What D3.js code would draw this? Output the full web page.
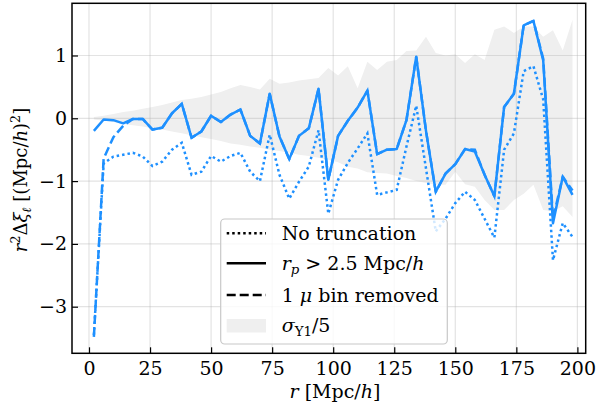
<!DOCTYPE html>
<html>
<head>
<meta charset="utf-8">
<script src="https://cdn.jsdelivr.net/npm/d3@7"></script>
<style>
  html, body { margin: 0; padding: 0; background: #fff; }
  svg { display: block; }
  text { font-family: "DejaVu Serif", serif; fill: #000; }
</style>
</head>
<body>
<svg id="chart" width="598" height="406"></svg>
<script>
// Separation r [Mpc/h] at the centre of each bin
const rBins = [2, 6, 10, 14, 18, 22, 26, 30, 34, 38, 42, 46, 50, 54, 58, 62, 66, 70, 74, 78,
  82, 86, 90, 94, 98, 102, 106, 110, 114, 118, 122, 126, 130, 134, 138, 142, 146, 150, 154, 158,
  162, 166, 170, 174, 178, 182, 186, 190, 194, 198];

// r^2 Δξ_ℓ without any truncation
const noTruncation = [-3.45, -0.72, -0.61, -0.58, -0.55, -0.61, -0.76, -0.69, -0.50, -0.39,
  -0.90, -0.85, -0.60, -0.69, -0.60, -0.55, -0.85, -1.00, -0.26, -0.90,
  -1.28, -1.01, -0.77, -0.19, -1.52, -0.98, -0.71, -0.48, -0.24, -1.22,
  -1.18, -1.14, -0.45, 0.20, -0.80, -1.80, -1.60, -1.35, -1.17, -1.30,
  -1.60, -1.90, -0.50, -0.24, 0.75, 0.83, 0.30, -2.26, -1.67, -1.89];

// r^2 Δξ_ℓ with r_p > 2.5 Mpc/h
const rpCut = [-0.20, -0.02, -0.03, -0.08, -0.01, -0.01, -0.18, -0.15, 0.08, 0.23,
  -0.31, -0.21, 0.04, -0.06, 0.06, 0.14, -0.28, -0.40, 0.39, -0.29,
  -0.65, -0.28, -0.16, 0.47, -0.98, -0.28, -0.04, 0.17, 0.44, -0.57,
  -0.50, -0.49, -0.03, 0.98, -0.20, -1.17, -0.88, -0.73, -0.49, -0.53,
  -0.90, -1.24, 0.18, 0.39, 1.48, 1.55, 0.92, -1.67, -0.93, -1.22];

// r^2 Δξ_ℓ with the first μ bin removed
const muBinRemoved = [-3.48, -0.64, -0.30, -0.12, -0.01, -0.01, -0.18, -0.15, 0.08, 0.23,
  -0.31, -0.21, 0.04, -0.06, 0.06, 0.14, -0.28, -0.40, 0.39, -0.29,
  -0.65, -0.28, -0.16, 0.47, -0.98, -0.28, -0.04, 0.17, 0.44, -0.57,
  -0.50, -0.49, -0.03, 0.98, -0.20, -1.17, -0.88, -0.73, -0.49, -0.50,
  -0.90, -1.24, 0.18, 0.39, 1.48, 1.55, 0.95, -1.60, -0.93, -1.15];

// Y1 error band (σ_Y1 / 5), upper and lower edges
const bandUpper = [0.02, 0.04, 0.07, 0.10, 0.12, 0.15, 0.18, 0.21, 0.25, 0.29,
  0.31, 0.34, 0.38, 0.42, 0.48, 0.53, 0.50, 0.46, 0.63, 0.55,
  0.57, 0.60, 0.62, 0.64, 0.80, 0.68, 0.83, 0.48, 0.90, 0.77,
  0.90, 0.93, 1.07, 1.08, 1.30, 1.04, 1.00, 1.02, 0.88, 1.02,
  0.93, 1.41, 1.46, 1.36, 1.46, 1.46, 1.30, 1.40, 1.08, 1.57];
const bandLower = [-0.02, -0.04, -0.06, -0.09, -0.11, -0.13, -0.16, -0.18, -0.21, -0.24,
  -0.27, -0.30, -0.33, -0.36, -0.40, -0.42, -0.45, -0.47, -0.50, -0.52,
  -0.55, -0.58, -0.60, -0.63, -0.66, -0.70, -0.77, -0.80, -0.86, -0.87,
  -0.88, -0.92, -0.95, -1.00, -1.03, -1.06, -1.06, -0.85, -1.05, -1.09,
  -1.30, -1.46, -1.46, -1.30, -1.20, -1.06, -1.46, -1.48, -1.40, -1.57];

const xTicks = [0, 25, 50, 75, 100, 125, 150, 175, 200];
const yTicks = [-3, -2, -1, 0, 1];

const lineColor = "#1e90ff";
const fontSize = 19;
const yLabelSize = 18;

const svg = d3.select("#chart");
const plotLeft = 72, plotRight = 585.7, plotTop = 3.3, plotBottom = 353.3;

const x = d3.scaleLinear().domain([-6.96, 203.4]).range([plotLeft, plotRight]);
const y = d3.scaleLinear().domain([-3.742, 1.831]).range([plotBottom, plotTop]);

svg.append("defs").append("clipPath").attr("id", "plot-clip")
  .append("rect").attr("x", plotLeft).attr("y", plotTop)
  .attr("width", plotRight - plotLeft).attr("height", plotBottom - plotTop);

const plot = svg.append("g").attr("clip-path", "url(#plot-clip)");

// error band
const band = rBins.map((r, i) => ({ r, lo: bandLower[i], hi: bandUpper[i] }));
plot.append("path")
  .datum(band)
  .attr("fill", "#efefef")
  .attr("d", d3.area().x(d => x(d.r)).y0(d => y(d.lo)).y1(d => y(d.hi)));

// grid
plot.append("g").selectAll("line").data(xTicks).join("line")
  .attr("x1", d => x(d)).attr("x2", d => x(d))
  .attr("y1", plotTop).attr("y2", plotBottom)
  .attr("stroke", "#b0b0b0").attr("stroke-opacity", 0.35).attr("stroke-width", 1.2);
plot.append("g").selectAll("line").data(yTicks).join("line")
  .attr("y1", d => y(d)).attr("y2", d => y(d))
  .attr("x1", plotLeft).attr("x2", plotRight)
  .attr("stroke", "#b0b0b0").attr("stroke-opacity", 0.35).attr("stroke-width", 1.2);

// series
const line = vals => d3.line().x((d, i) => x(rBins[i])).y(d => y(d))(vals);

plot.append("path").attr("d", line(noTruncation))
  .attr("fill", "none").attr("stroke", lineColor).attr("stroke-width", 2.5)
  .attr("stroke-dasharray", "2.5,3");
plot.append("path").attr("d", line(rpCut))
  .attr("fill", "none").attr("stroke", lineColor).attr("stroke-width", 2.5)
  .attr("stroke-linejoin", "round");
plot.append("path").attr("d", line(muBinRemoved))
  .attr("fill", "none").attr("stroke", lineColor).attr("stroke-width", 2.5)
  .attr("stroke-dasharray", "9,4");

// axes
const xAxis = d3.axisBottom(x).tickValues(xTicks).tickSizeInner(-6).tickSizeOuter(0)
  .tickPadding(8).tickFormat(d3.format("d"));
const yAxis = d3.axisLeft(y).tickValues(yTicks).tickSizeInner(-6).tickSizeOuter(0)
  .tickPadding(5).tickFormat(d => d < 0 ? "\u2212" + Math.abs(d) : String(d));

const gx = svg.append("g").attr("transform", `translate(0,${plotBottom})`).call(xAxis);
const gy = svg.append("g").attr("transform", `translate(${plotLeft},0)`).call(yAxis);
[gx, gy].forEach(g => {
  g.select(".domain").remove();
  g.selectAll(".tick line").attr("stroke", "#000").attr("stroke-width", 1.2);
  g.selectAll(".tick text").attr("font-family", "DejaVu Serif").attr("font-size", fontSize).attr("fill", "#000");
});

// frame
svg.append("rect").attr("x", plotLeft).attr("y", plotTop)
  .attr("width", plotRight - plotLeft).attr("height", plotBottom - plotTop)
  .attr("fill", "none").attr("stroke", "#000").attr("stroke-width", 1.5);

// text with italic / raised / lowered pieces
function richText(sel, parts, size) {
  let cur = 0;
  parts.forEach(p => {
    const shift = p.shift || 0;
    const ts = sel.append("tspan").text(p.t).attr("dy", shift - cur);
    cur = shift;
    if (p.it) ts.attr("font-style", "italic");
    if (p.small) ts.attr("font-size", size * 0.7);
  });
}

// axis labels
const xl = svg.append("text").attr("x", 335).attr("y", 398)
  .attr("text-anchor", "middle").attr("font-size", fontSize);
richText(xl, [{ t: "r", it: true }, { t: " [Mpc/" }, { t: "h", it: true }, { t: "]" }], fontSize);

const yl = svg.append("text")
  .attr("transform", "translate(27,180) rotate(-90)")
  .attr("text-anchor", "middle").attr("font-size", yLabelSize);
richText(yl, [
  { t: "r", it: true }, { t: "2", small: true, shift: -7 }, { t: "Δ" },
  { t: "ξ", it: true }, { t: "ℓ", it: true, small: true, shift: 4 },
  { t: " [(Mpc/" }, { t: "h", it: true }, { t: ")" }, { t: "2", small: true, shift: -7 }, { t: "]" }
], yLabelSize);

// legend
const lg = svg.append("g");
lg.append("rect").attr("x", 220.7).attr("y", 219).attr("width", 226.6).attr("height", 125)
  .attr("rx", 4).attr("fill", "#fff").attr("fill-opacity", 0.8)
  .attr("stroke", "#c8c8c8").attr("stroke-width", 1.2);

const rows = [
  { y: 233.3, kind: "dot", parts: [{ t: "No truncation" }] },
  { y: 263.3, kind: "solid", parts: [{ t: "r", it: true }, { t: "p", it: true, small: true, shift: 4 }, { t: " > 2.5 Mpc/" }, { t: "h", it: true }] },
  { y: 295, kind: "dash", parts: [{ t: "1 " }, { t: "μ", it: true }, { t: " bin removed" }] },
  { y: 325.5, kind: "band", parts: [{ t: "σ", it: true }, { t: "Y1", small: true, shift: 4 }, { t: "/5" }] }
];
rows.forEach(rw => {
  if (rw.kind === "band") {
    lg.append("rect").attr("x", 226.7).attr("y", rw.y - 6.5).attr("width", 39.3).attr("height", 13.5)
      .attr("fill", "#efefef");
  } else {
    const l = lg.append("line").attr("x1", 226.7).attr("x2", 266).attr("y1", rw.y).attr("y2", rw.y)
      .attr("stroke", "#000").attr("stroke-width", 2.5);
    if (rw.kind === "dot") l.attr("stroke-dasharray", "2.5,3");
    if (rw.kind === "dash") l.attr("stroke-dasharray", "9,4");
  }
  const t = lg.append("text").attr("x", 281.7).attr("y", rw.y + 6.8).attr("font-size", fontSize);
  richText(t, rw.parts, fontSize);
});
</script>
</body>
</html>
